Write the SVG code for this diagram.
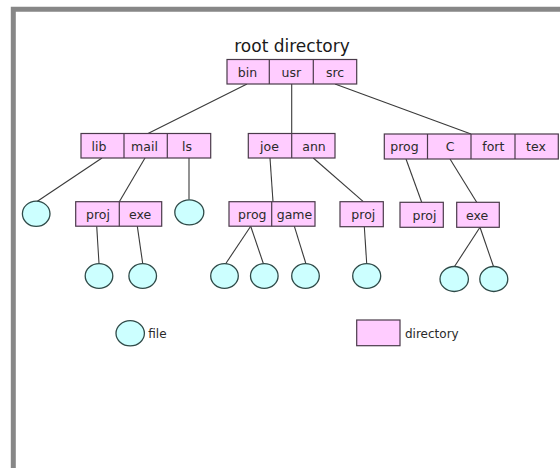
<svg xmlns="http://www.w3.org/2000/svg" width="560" height="468" viewBox="0 0 560 468">
<style>
.d{fill:#ffccff;stroke:#4a3a4a;stroke-width:1.2}
.dv{stroke:#4a3a4a;stroke-width:1.2}
.f{fill:#ccffff;stroke:#2f4a48;stroke-width:1.3}
.c{stroke:#3a3a3a;stroke-width:1.1;fill:none}
.t{font-family:"DejaVu Sans",Verdana,sans-serif;font-size:12.5px;fill:#2a2a2a;text-anchor:middle}
.l{font-family:"DejaVu Sans",Verdana,sans-serif;font-size:12px;fill:#2a2a2a}
</style>
<rect width="560" height="468" fill="#ffffff"/>
<path d="M13.3,470 V9.2 H562" fill="none" stroke="#878787" stroke-width="5"/>
<text x="292" y="52" font-family="DejaVu Sans, Verdana, sans-serif" font-size="17" fill="#1a1a1a" text-anchor="middle">root directory</text>
<g id="connectors" class="c">
<line x1="247" y1="84" x2="148" y2="133.5"/>
<line x1="291.7" y1="84" x2="291.7" y2="133.5"/>
<line x1="335" y1="84" x2="471" y2="134"/>
<line x1="102" y1="158" x2="37" y2="201.5"/>
<line x1="145" y1="158" x2="119.3" y2="201.7"/>
<line x1="189" y1="158" x2="189" y2="199.5"/>
<line x1="270" y1="158" x2="273" y2="201.7"/>
<line x1="313.3" y1="158" x2="363.3" y2="201.7"/>
<line x1="406" y1="159" x2="421.7" y2="202.3"/>
<line x1="450" y1="159" x2="476.7" y2="202.3"/>
<line x1="96.7" y1="226.2" x2="99" y2="263.5"/>
<line x1="137.3" y1="226.2" x2="142.7" y2="263.5"/>
<line x1="250.7" y1="226.2" x2="225.5" y2="264"/>
<line x1="250.7" y1="226.2" x2="263.5" y2="264"/>
<line x1="294.3" y1="226.2" x2="306" y2="264"/>
<line x1="364.3" y1="226.5" x2="366.7" y2="263.5"/>
<line x1="480" y1="227.3" x2="454.5" y2="266.5"/>
<line x1="480" y1="227.3" x2="493.5" y2="266.5"/>
</g>
<g id="root">
<rect class="d" x="227" y="59.5" width="129.7" height="24.5"/>
<line class="dv" x1="269.3" y1="59.5" x2="269.3" y2="84"/>
<line class="dv" x1="313.3" y1="59.5" x2="313.3" y2="84"/>
<text class="t" x="247.5" y="77">bin</text>
<text class="t" x="291.3" y="77">usr</text>
<text class="t" x="335" y="77">src</text>
</g>
<g id="bin">
<rect class="d" x="81" y="133.5" width="129.7" height="24.5"/>
<line class="dv" x1="124" y1="133.5" x2="124" y2="158"/>
<line class="dv" x1="167.3" y1="133.5" x2="167.3" y2="158"/>
<text class="t" x="99" y="150.5">lib</text>
<text class="t" x="144.5" y="150.5">mail</text>
<text class="t" x="187" y="150.5">ls</text>
</g>
<g id="usr">
<rect class="d" x="248.3" y="133.5" width="86.7" height="24.5"/>
<line class="dv" x1="291.7" y1="133.5" x2="291.7" y2="158"/>
<text class="t" x="269.5" y="150.5">joe</text>
<text class="t" x="314" y="150.5">ann</text>
</g>
<g id="src">
<rect class="d" x="384.3" y="134" width="174" height="25"/>
<line class="dv" x1="427.5" y1="134" x2="427.5" y2="159"/>
<line class="dv" x1="471" y1="134" x2="471" y2="159"/>
<line class="dv" x1="515" y1="134" x2="515" y2="159"/>
<text class="t" x="404.5" y="151">prog</text>
<text class="t" x="450" y="151">C</text>
<text class="t" x="493.3" y="151">fort</text>
<text class="t" x="536" y="151">tex</text>
</g>
<g id="mail">
<rect class="d" x="75.7" y="201.7" width="86" height="24.5"/>
<line class="dv" x1="119.3" y1="201.7" x2="119.3" y2="226.2"/>
<text class="t" x="98" y="219">proj</text>
<text class="t" x="140" y="219">exe</text>
</g>
<g id="joe">
<rect class="d" x="229" y="201.7" width="86" height="24.5"/>
<line class="dv" x1="271.7" y1="201.7" x2="271.7" y2="226.2"/>
<text class="t" x="252.3" y="219">prog</text>
<text class="t" x="294.5" y="219">game</text>
</g>
<g id="ann-proj">
<rect class="d" x="340" y="201.7" width="43.3" height="25"/>
<text class="t" x="363.3" y="219.2">proj</text>
</g>
<g id="src-proj">
<rect class="d" x="400" y="202.3" width="43.3" height="25"/>
<text class="t" x="424.5" y="219.8">proj</text>
</g>
<g id="src-exe">
<rect class="d" x="456.7" y="202.3" width="42.6" height="25"/>
<text class="t" x="477" y="219.8">exe</text>
</g>
<g id="files">
<ellipse class="f" cx="36.2" cy="213.8" rx="13.8" ry="12.6"/>
<ellipse class="f" cx="189.3" cy="212.3" rx="14.5" ry="12.5"/>
<ellipse class="f" cx="99" cy="276" rx="13.8" ry="12.3"/>
<ellipse class="f" cx="142.7" cy="276" rx="13.8" ry="12.3"/>
<ellipse class="f" cx="224.5" cy="276" rx="13.8" ry="12.3"/>
<ellipse class="f" cx="264.3" cy="276" rx="13.8" ry="12.3"/>
<ellipse class="f" cx="305.5" cy="276" rx="13.8" ry="12.3"/>
<ellipse class="f" cx="366.7" cy="276" rx="14" ry="12.3"/>
<ellipse class="f" cx="454.2" cy="279" rx="14.2" ry="12.5"/>
<ellipse class="f" cx="493.8" cy="279" rx="14" ry="12.5"/>
</g>
<g id="legend-file">
<ellipse class="f" cx="130.2" cy="333.3" rx="14.2" ry="12.6"/>
<text class="l" x="148.3" y="338">file</text>
</g>
<g id="legend-directory">
<rect class="d" x="356.7" y="320" width="43.3" height="25.7"/>
<text class="l" x="405" y="338">directory</text>
</g>
</svg>
